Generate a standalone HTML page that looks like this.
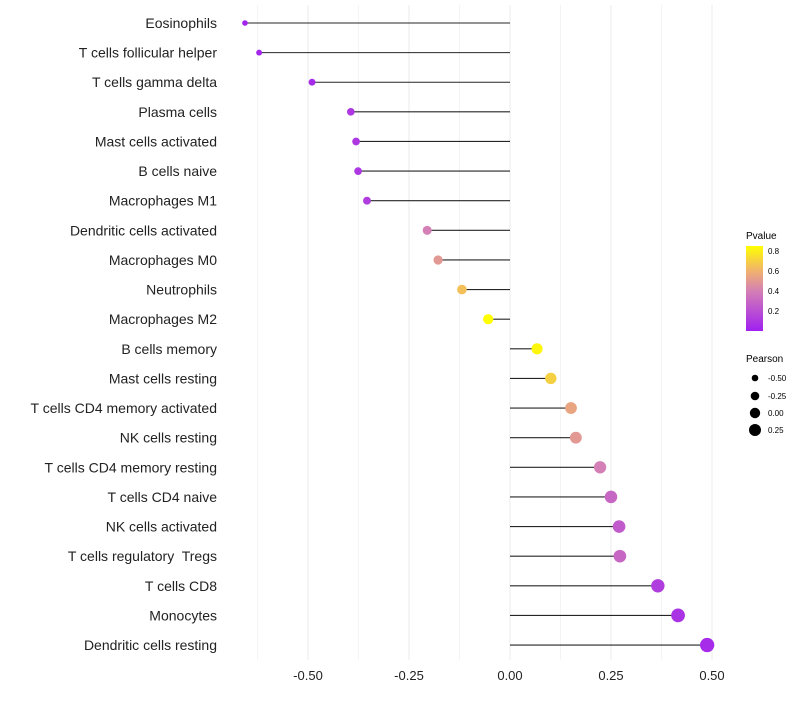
<!DOCTYPE html>
<html><head><meta charset="utf-8"><style>
body{margin:0;background:#fff;font-family:"Liberation Sans",sans-serif}
text{white-space:pre}
</style></head><body>
<svg id="c" width="800" height="700" xmlns="http://www.w3.org/2000/svg" font-family="Liberation Sans, sans-serif">
<defs><linearGradient id="pg" x1="0" y1="1" x2="0" y2="0">
<stop offset="0" stop-color="#a020f0"/><stop offset="0.47" stop-color="#d47fb5"/><stop offset="0.7" stop-color="#f0b070"/><stop offset="1" stop-color="#ffff00"/>
</linearGradient></defs>
<g id="grid"></g><g id="marks"></g><g id="labels"></g>
<g>
<text x="746" y="239" font-size="10">Pvalue</text>
<rect x="746" y="246" width="17" height="85" fill="url(#pg)"/>
<text x="768" y="254" font-size="8">0.8</text><text x="768" y="274" font-size="8">0.6</text>
<text x="768" y="294" font-size="8">0.4</text><text x="768" y="314" font-size="8">0.2</text>
<text x="746" y="362" font-size="10">Pearson</text>
<circle cx="755" cy="378" r="3.3"/><text x="768" y="381" font-size="8">-0.50</text>
<circle cx="755" cy="396" r="4.3"/><text x="768" y="399" font-size="8">-0.25</text>
<circle cx="755" cy="413" r="5.2"/><text x="768" y="416" font-size="8">0.00</text>
<circle cx="755" cy="430" r="6"/><text x="768" y="433" font-size="8">0.25</text>
</g>
</svg>
<script>
const categories=["Eosinophils","T cells follicular helper","T cells gamma delta","Plasma cells","Mast cells activated","B cells naive","Macrophages M1","Dendritic cells activated","Macrophages M0","Neutrophils","Macrophages M2","B cells memory","Mast cells resting","T cells CD4 memory activated","NK cells resting","T cells CD4 memory resting","T cells CD4 naive","NK cells activated","T cells regulatory  Tregs","T cells CD8","Monocytes","Dendritic cells resting"];
const pearson=[-0.656,-0.621,-0.49,-0.394,-0.381,-0.376,-0.354,-0.205,-0.178,-0.119,-0.054,0.067,0.101,0.151,0.163,0.223,0.25,0.27,0.272,0.366,0.416,0.488];
const pvalue=[0.02,0.03,0.05,0.1,0.1,0.1,0.12,0.4,0.5,0.65,0.85,0.82,0.7,0.55,0.5,0.4,0.3,0.25,0.3,0.12,0.08,0.05];
const ticks=[-0.5,-0.25,0,0.25,0.5];
const tickLabels=["-0.50","-0.25","0.00","0.25","0.50"];
const NS="http://www.w3.org/2000/svg";
const x=v=>510+v*404;
const y=i=>23+i*29.62;
const rad=v=>5.3+3.8*v;
function col(p){const st=[[0,[160,32,240]],[0.4,[212,127,181]],[0.6,[240,176,112]],[0.85,[255,255,0]]];
 p=Math.max(0,Math.min(0.85,p));for(let k=1;k<st.length;k++){if(p<=st[k][0]){const a=st[k-1],b=st[k],t=(p-a[0])/(b[0]-a[0]);return `rgb(${a[1].map((c,j)=>Math.round(c+(b[1][j]-c)*t)).join(',')})`;}}return 'rgb(255,255,0)';}
function mk(t,a,p){const e=document.createElementNS(NS,t);for(const k in a)e.setAttribute(k,a[k]);p.appendChild(e);return e;}
const grid=document.getElementById('grid'),marks=document.getElementById('marks'),labels=document.getElementById('labels');
for(let v=-0.625;v<=0.51;v+=0.125){const l=mk('line',{x1:x(v),x2:x(v),y1:5,y2:660,stroke:Math.abs(v*4-Math.round(v*4))<1e-6?'#ebebeb':'#f4f4f4','stroke-width':1},grid);

}
ticks.forEach((v,i)=>{const t=mk('text',{x:x(v),y:680,'font-size':13,'text-anchor':'middle',fill:'#222'},labels);t.textContent=tickLabels[i];

});
categories.forEach((c,i)=>{
 const t=mk('text',{x:217,y:y(i)+5,'font-size':14,'text-anchor':'end',fill:'#222'},labels);t.textContent=c;
 
 
 const l=mk('line',{x1:x(0),x2:x(pearson[i]),y1:y(i),y2:y(i),stroke:'#000','stroke-width':1.1,'stroke-opacity':0.85},marks);
 
 
 const d=mk('circle',{cx:x(pearson[i]),cy:y(i),r:rad(pearson[i]),fill:col(pvalue[i])},marks);
 
 
});
</script>
</body></html>
